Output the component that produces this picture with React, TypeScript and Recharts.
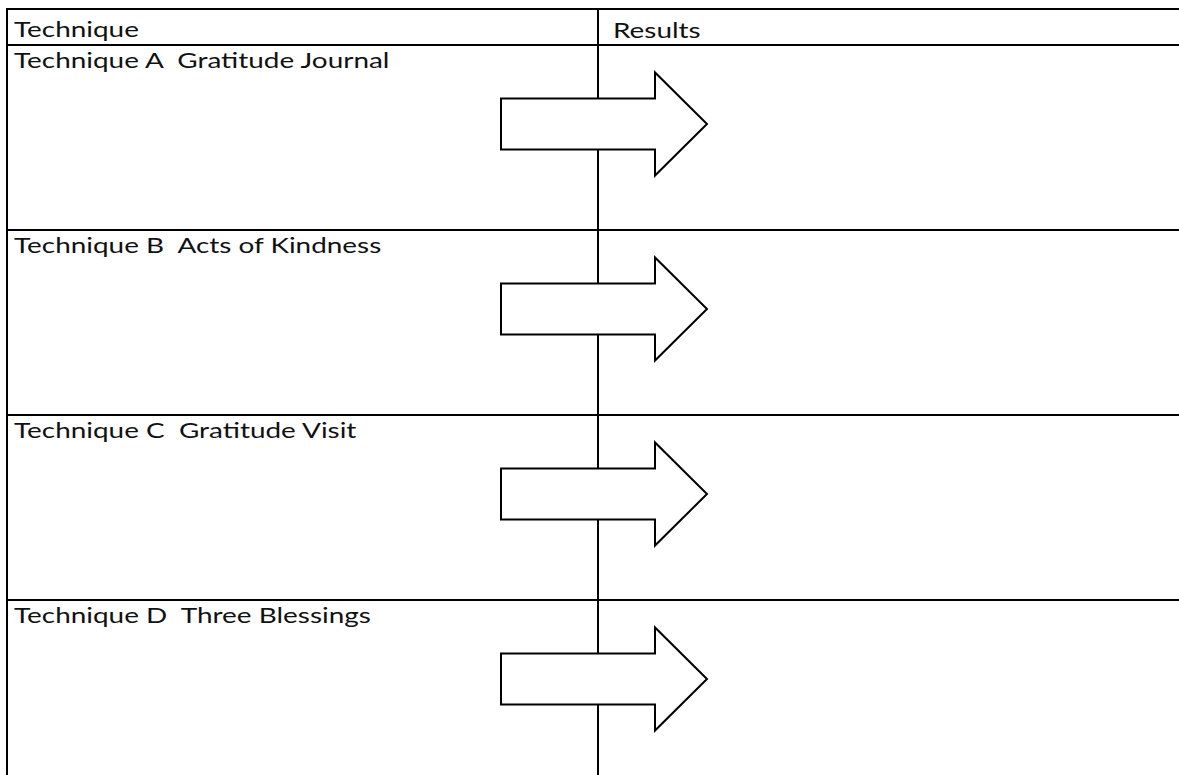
import * as React from 'react';
import { BarChart, Bar, XAxis, YAxis } from 'recharts';

// table content
const headers = ['Technique', 'Results'];
const techniques = [
  'Technique A  Gratitude Journal',
  'Technique B  Acts of Kindness',
  'Technique C  Gratitude Visit',
  'Technique D  Three Blessings',
];
// every technique row leads to one (empty) result arrow
const arrows = [1, 1, 1, 1];

const data = techniques.map((technique, i) => ({ technique, arrow: arrows[i] }));

const HEADER_H = 36;
const SPLIT = 591; // technique column width
const FONT = 'Lato, "Open Sans", sans-serif';
const FONT_SIZE = 21;
const SX = 1.33;

function Label({ x, y, text }: { x: number, y: number, text: string }) {
  return <text transform={`translate(${x},${y}) scale(${SX},1)`} x={0} y={0}
    fontFamily={FONT} fontSize={FONT_SIZE} fill="#111"
    style={{ whiteSpace: 'pre' }} xmlSpace="preserve">{text}</text>;
}

function Arrow({ x, cy }: { x: number, cy: number }) {
  const bx = x + 494, hx = x + 648, tx = x + 700;
  const pts = [
    [bx, cy - 25.5], [hx, cy - 25.5], [hx, cy - 51.5], [tx, cy],
    [hx, cy + 51.5], [hx, cy + 25.5], [bx, cy + 25.5],
  ].map(p => p.join(',')).join(' ');
  return <polygon points={pts} fill="#fff" stroke="#000" strokeWidth={2} strokeLinejoin="miter" />;
}

function RowShape(props: any) {
  const { x, y, width, height, payload, index } = props;
  const line = { stroke: '#000', strokeWidth: 2 };
  return <g>
    {index === 0 && <g>
      <line x1={x} x2={x + width} y1={y - HEADER_H} y2={y - HEADER_H} {...line} />
      <line x1={x} x2={x} y1={y - HEADER_H - 1} y2={y} {...line} />
      <line x1={x + SPLIT} x2={x + SPLIT} y1={y - HEADER_H} y2={y} {...line} />
      <Label x={x + 7} y={y - HEADER_H + 28} text={headers[0]} />
      <Label x={x + SPLIT + 15} y={y - HEADER_H + 29} text={headers[1]} />
    </g>}
    <line x1={x} x2={x + width} y1={y} y2={y} {...line} />
    <line x1={x} x2={x} y1={y - 1} y2={y + height} {...line} />
    <line x1={x + SPLIT} x2={x + SPLIT} y1={y} y2={y + height} {...line} />
    <Label x={x + 7} y={y + 23} text={payload.technique} />
    <Arrow x={x} cy={y + 79} />
  </g>;
}

export default function App() {
  return <div style={{ position: 'absolute', left: 0, top: 0, width: 1179, height: 775, overflow: 'hidden', background: '#fff' }}>
    <BarChart width={1179} height={785} data={data} layout="vertical"
      margin={{ top: 45, right: 0, left: 7, bottom: 0 }} barCategoryGap={0} barGap={0}>
      <XAxis type="number" domain={[0, 1]} hide />
      <YAxis type="category" dataKey="technique" hide />
      <Bar dataKey="arrow" isAnimationActive={false} shape={RowShape} />
    </BarChart>
  </div>;
}
